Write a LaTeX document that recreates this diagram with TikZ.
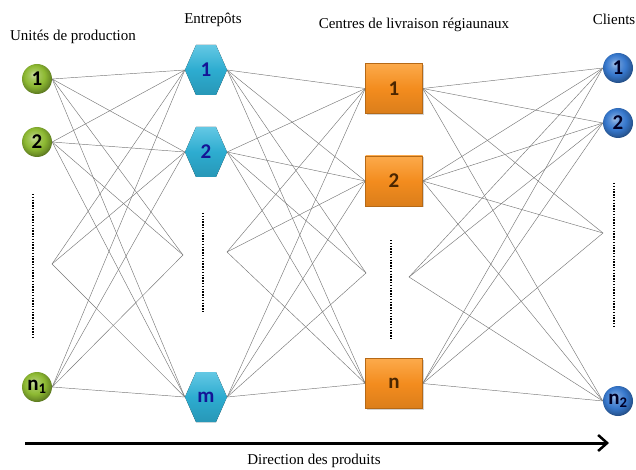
\documentclass[tikz,border=0pt]{standalone}
\usepackage{fontspec}
\setmainfont{Liberation Serif}
\newfontfamily\labfont{Carlito}
\usetikzlibrary{shadows,backgrounds,arrows.meta}
\definecolor{pgreen}{RGB}{141,185,50}
\definecolor{hexblue}{RGB}{45,172,208}
\definecolor{hexlight}{RGB}{100,200,228}
\definecolor{hextext}{RGB}{20,20,150}
\definecolor{sqorange}{RGB}{243,140,30}
\definecolor{sqlight}{RGB}{252,170,75}
\definecolor{sqtext}{RGB}{75,38,0}
\definecolor{cblue}{RGB}{55,120,205}
\definecolor{linkgray}{RGB}{120,120,120}
\pgfdeclareradialshading{greenballsh}{\pgfpoint{-6bp}{8bp}}{%
  color(0bp)=(pgreen!45!white); color(8bp)=(pgreen!80!white); color(17bp)=(pgreen);
  color(24bp)=(pgreen!80!black); color(28bp)=(pgreen!65!black); color(50bp)=(pgreen!65!black)}
\pgfdeclareradialshading{blueballsh}{\pgfpoint{-6bp}{8bp}}{%
  color(0bp)=(cblue!45!white); color(8bp)=(cblue!80!white); color(17bp)=(cblue);
  color(24bp)=(cblue!80!black); color(28bp)=(cblue!65!black); color(50bp)=(cblue!65!black)}
\tikzset{
  labfnt/.style={font=\labfont\bfseries\fontsize{21}{21}\selectfont},
  pnode/.style={circle,minimum size=30pt,inner sep=0pt,shading=greenballsh,labfnt,text=black},
  knode/.style={circle,minimum size=30pt,inner sep=0pt,shading=blueballsh,labfnt,text=black!85!blue},
  hexlabel/.style={rectangle,minimum width=42pt,minimum height=50pt,inner sep=0pt,labfnt,text=hextext},
  hexfill/.style={top color=hexlight,bottom color=hexblue!88!black,middle color=hexblue},
  cnode/.style={rectangle,minimum width=57pt,minimum height=50pt,inner sep=0pt,
     top color=sqlight,bottom color=sqorange!90!black,middle color=sqorange,draw=sqorange!75!black,line width=0.4pt,
     drop shadow={shadow xshift=1pt,shadow yshift=-1.5pt,opacity=0.35},labfnt,text=sqtext},
  link/.style={draw=linkgray,line width=0.45pt},
  dotline/.style={line width=2.3pt,dash pattern=on 1.4pt off 1.4pt},
  title/.style={font=\fontsize{15}{15}\selectfont,anchor=center},
}
\newcommand\hexnode[4]{%
  \fill[hexfill] (#2,#3) ++(-21,0) -- ++(11,-25) -- ++(20,0) -- ++(11,25) -- ++(-11,25) -- ++(-20,0) -- cycle;
  \node[hexlabel] (#1) at (#2,#3) {#4};}
\begin{document}
\begin{tikzpicture}[x=1pt,y=-1pt]
\useasboundingbox (0,0) rectangle (636,470);
% titles
\node[title] (t1) at (73,37) {Unités de production};
\node[title] (t2) at (213,20) {Entrepôts};
\node[title] (t3) at (414,25) {Centres de livraison régiaunaux};
\node[title] (t4) at (614,19) {Clients};
% production units
\node[pnode] (p1) at (37,79) {1};
\node[pnode] (p2) at (37,142) {2};
\node[pnode] (pn) at (37,387) {n\textsubscript{1}};
% warehouses
\hexnode{e1}{206}{70}{1}
\hexnode{e2}{206}{152}{2}
\hexnode{em}{206}{397}{m}
% regional centres
\node[cnode] (c1) at (394,88.5) {1};
\node[cnode] (c2) at (394,181) {2};
\node[cnode] (cn) at (394,383.5) {n};
% clients
\node[knode] (k1) at (618,68) {1};
\node[knode] (k2) at (618,123) {2};
\node[knode] (kn) at (618,401) {n\textsubscript{2}};
% hidden convergence points
\coordinate (hp) at (52,264);
\coordinate (hel) at (183,255);
\coordinate (her) at (227,252);
\coordinate (hcl) at (366,273);
\coordinate (hcr) at (409,277);
\coordinate (hk) at (603,233);
\begin{scope}[on background layer]
\foreach \a in {p1,p2,pn}{
  \foreach \b in {e1,e2,em}{\draw[link] (\a.east) -- (\b.west);}
  \draw[link] (\a.east) -- (hel);}
\foreach \b in {e1,e2,em}{\draw[link] (hp) -- (\b.west);}
\foreach \a in {e1,e2,em}{
  \foreach \b in {c1,c2,cn}{\draw[link] (\a.east) -- (\b.west);}
  \draw[link] (\a.east) -- (hcl);}
\foreach \b in {c1,c2,cn}{\draw[link] (her) -- (\b.west);}
\foreach \a in {c1,c2,cn}{
  \foreach \b in {k1,k2,kn}{\draw[link] (\a.east) -- (\b.west);}
  \draw[link] (\a.east) -- (hk);}
\foreach \b in {k1,k2,kn}{\draw[link] (hcr) -- (\b.west);}
\end{scope}
% vertical dots
\draw[dotline] (33,194) -- (33,337);
\draw[dotline] (203,213) -- (203,313);
\draw[dotline] (391,240) -- (391,339);
\draw[dotline] (614,183) -- (614,326);
% direction arrow
\coordinate (as) at (25,443);
\coordinate (ae) at (609,443);
\draw[line width=3pt,-{Straight Barb[length=9pt,width=16pt,line width=2.5pt]}] (as) -- (ae);
\node[title] (dir) at (314,461) {Direction des produits};
\end{tikzpicture}
\end{document}
